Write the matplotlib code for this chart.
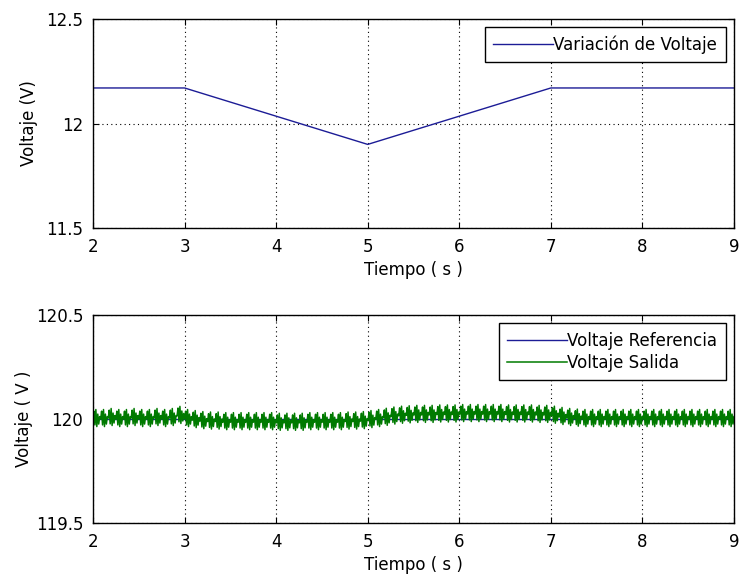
import numpy as np
import matplotlib.pyplot as plt

# --- datos ---
t_var = [2, 3, 5, 7, 9]
v_var = [12.17, 12.17, 11.90, 12.17, 12.17]

t_ref = [2, 9]
v_ref = [120.0, 120.0]

# nivel medio de la salida, un valor por rafaga (12 rafagas por segundo, 2 a 9 s)
nivel_salida = (
    [0.0, 0.0, 0.005, 0.0, 0.0, 0.005, 0.0, 0.0, 0.005, 0.0, 0.005, 0.015]          # 2-3 s
    + [0.0, -0.005, -0.01, -0.012, -0.012, -0.015, -0.015, -0.015, -0.015, -0.015,
       -0.015, -0.015, -0.018, -0.018, -0.018, -0.018, -0.015, -0.015, -0.015,
       -0.015, -0.015, -0.012, -0.012, -0.01]                                         # 3-5 s
    + [-0.005, 0.0, 0.006, 0.012, 0.016, 0.018]                                       # 5-5.5 s
    + [0.02, 0.02, 0.02, 0.022, 0.022, 0.022, 0.024, 0.024, 0.024, 0.024, 0.024, 0.024,
       0.022, 0.022, 0.022, 0.022, 0.02, 0.02]                                        # 5.5-7 s
    + [0.016, 0.01, 0.005, 0.002]                                                     # 7-7.3 s
    + [0.0] * 20                                                                       # 7.3-9 s
)
rafaga = [0.0, 0.038, -0.028, 0.046, -0.036, 0.024, -0.024, 0.012]

n_raf = len(nivel_salida)
v_sal = 120.0 + np.repeat(nivel_salida, len(rafaga)) + np.tile(rafaga, n_raf)
t_sal = np.linspace(2, 9, len(v_sal))

plt.rcParams['font.family'] = ['DejaVu Sans']
plt.rcParams['font.size'] = 12

fig = plt.figure(figsize=(7.41, 5.79), dpi=100)
ax1 = fig.add_axes([0.1255, 0.6062, 0.8650, 0.3610])
ax2 = fig.add_axes([0.1255, 0.0967, 0.8650, 0.3590])

azul = '#1c1c96'
verde = '#007a00'

leg_kw = dict(loc='upper right', fancybox=False, edgecolor='black',
              handlelength=3.6, handletextpad=0.0, borderpad=0.5,
              borderaxespad=0.5, labelspacing=0.25)

ax1.plot(t_var, v_var, color=azul, lw=1, label='Variación de Voltaje')
ax1.set_xlim(2, 9)
ax1.set_ylim(11.5, 12.5)
ax1.set_yticks([11.5, 12, 12.5])
ax1.set_yticklabels(['11.5', '12', '12.5'])
ax1.set_xlabel('Tiempo ( s )', labelpad=4)
ax1.set_ylabel('Voltaje (V)', labelpad=6)
leg1 = ax1.legend(**leg_kw)

ax2.plot(t_ref, v_ref, color=azul, lw=1, label='Voltaje Referencia')
ax2.plot(t_sal, v_sal, color=verde, lw=1.1, label='Voltaje Salida')
ax2.set_xlim(2, 9)
ax2.set_ylim(119.5, 120.5)
ax2.set_yticks([119.5, 120, 120.5])
ax2.set_yticklabels(['119.5', '120', '120.5'])
ax2.set_xlabel('Tiempo ( s )', labelpad=4)
ax2.set_ylabel('Voltaje ( V )', labelpad=2)
leg2 = ax2.legend(**leg_kw)

for ax, leg in ((ax1, leg1), (ax2, leg2)):
    ax.set_xticks(range(2, 10))
    ax.grid(True, color='black', linestyle=(0, (1, 3)), linewidth=0.8)
    ax.tick_params(direction='in', top=True, right=True, length=4, pad=7)
    for s in ax.spines.values():
        s.set_linewidth(1)
    leg.get_frame().set_linewidth(1)
    leg.get_frame().set_alpha(1)

fig.savefig('out.png', dpi=100)
